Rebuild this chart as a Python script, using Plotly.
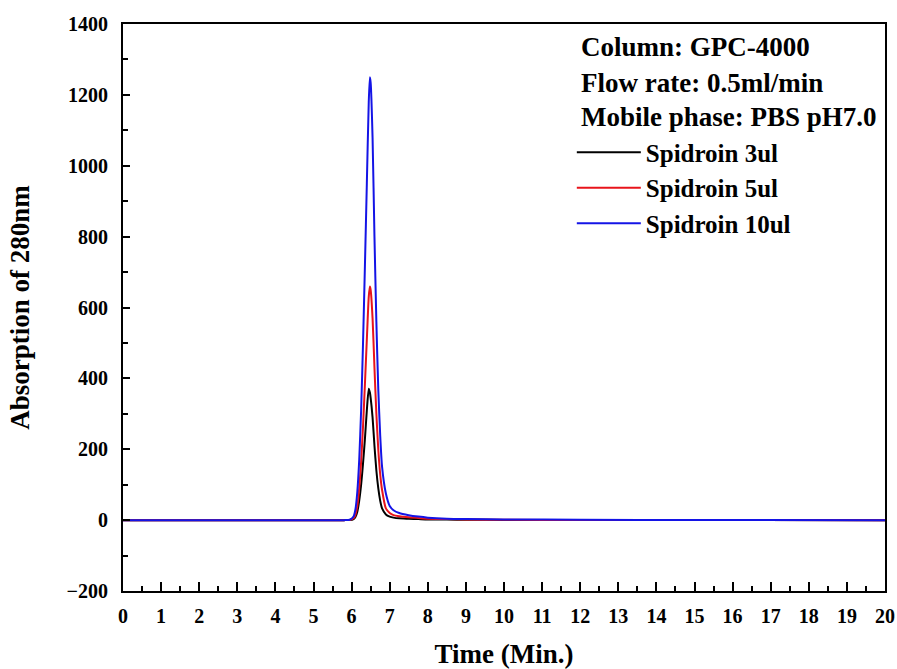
import plotly.graph_objects as go

# Time axis (min)
time = [0, 5.8, 5.95, 6.05, 6.1, 6.15, 6.2, 6.25, 6.3, 6.35, 6.4, 6.45, 6.48,
        6.5, 6.55, 6.6, 6.65, 6.7, 6.75, 6.8, 6.9, 7.0, 7.1, 7.25, 7.5, 7.75,
        8.0, 8.5, 9.0, 10, 12, 15, 20]

# Absorption at 280 nm
spidroin_3ul = [0, 0, 0.3, 3, 9, 24, 55, 100, 160, 230, 310, 371, 360,
                345, 290, 210, 140, 90, 55, 33, 16, 10, 7, 5, 4, 3,
                2, 1.5, 1, 0.5, 0.3, 0.2, 0]
spidroin_5ul = [0, 0, 0.5, 5, 15, 40, 90, 165, 265, 385, 510, 630, 659,
                650, 570, 430, 300, 200, 130, 85, 33, 20, 14, 11, 8, 6,
                4, 3, 2, 1, 0.5, 0.3, 0]
spidroin_10ul = [0, 0, 1, 10, 30, 80, 170, 310, 500, 720, 950, 1180, 1250,
                 1235, 1080, 800, 560, 370, 240, 150, 75, 40, 28, 20, 14, 10,
                 7, 4, 3, 2, 1, 0.5, 0]

series_names = ["Spidroin 3ul", "Spidroin 5ul", "Spidroin 10ul"]
series_values = [spidroin_3ul, spidroin_5ul, spidroin_10ul]
series_colors = ["#000000", "#e8141b", "#1414e6"]

info_lines = ["Column: GPC-4000", "Flow rate: 0.5ml/min", "Mobile phase: PBS pH7.0"]

x_ticks = list(range(0, 21))
y_ticks = list(range(-200, 1401, 200))

FONT = "Liberation Serif"

fig = go.Figure()
for name, vals, col in zip(series_names, series_values, series_colors):
    fig.add_trace(go.Scatter(x=time, y=vals, mode="lines", name=name,
                             line=dict(color=col, width=2, shape="spline", smoothing=0.6)))

axis_common = dict(
    showline=True, linecolor="black", linewidth=2, mirror=True,
    ticks="inside", tickcolor="black", tickwidth=1.5,
    showgrid=False, zeroline=False, automargin=False,
    ticklabeloverflow="allow",
    tickfont=dict(family=FONT, size=20, color="black", weight="bold"),
)

fig.update_xaxes(range=[0, 20], tickvals=x_ticks, ticklen=9,
                 minor=dict(dtick=0.5, ticks="inside", ticklen=5, tickcolor="black", tickwidth=1.5),
                 ticklabelstandoff=6,
                 title=dict(text="<b>Time (Min.)</b>", font=dict(family=FONT, size=27, color="black"),
                            standoff=19),
                 **axis_common)
fig.update_yaxes(range=[-200, 1400], tickvals=y_ticks, ticklen=7,
                 minor=dict(dtick=100, ticks="inside", ticklen=5, tickcolor="black", tickwidth=1.5),
                 ticklabelstandoff=9,
                 title=dict(text="<b>Absorption of 280nm</b>", font=dict(family=FONT, size=27, color="black"),
                            standoff=29),
                 **axis_common)

info_y = [0.959, 0.896, 0.836]
for txt, yy in zip(info_lines, info_y):
    fig.add_annotation(text="<b>" + txt + "</b>", xref="paper", yref="paper",
                       x=0.599, y=yy, xanchor="left", yanchor="middle", showarrow=False,
                       font=dict(family=FONT, size=27, color="black"))

fig.update_layout(
    width=897, height=669,
    margin=dict(l=123, r=12, t=24, b=78),
    paper_bgcolor="white", plot_bgcolor="white",
    showlegend=True,
    legend=dict(x=0.589, y=0.814, xanchor="left", yanchor="top",
                bgcolor="rgba(0,0,0,0)", borderwidth=0, tracegroupgap=0,
                itemwidth=64,
                font=dict(family=FONT, size=25, color="black", weight="bold")),
)

fig.write_html("out.html",
               config={"displayModeBar": False},
               post_script="document.body.style.margin='0px';document.body.style.overflow='hidden';")
